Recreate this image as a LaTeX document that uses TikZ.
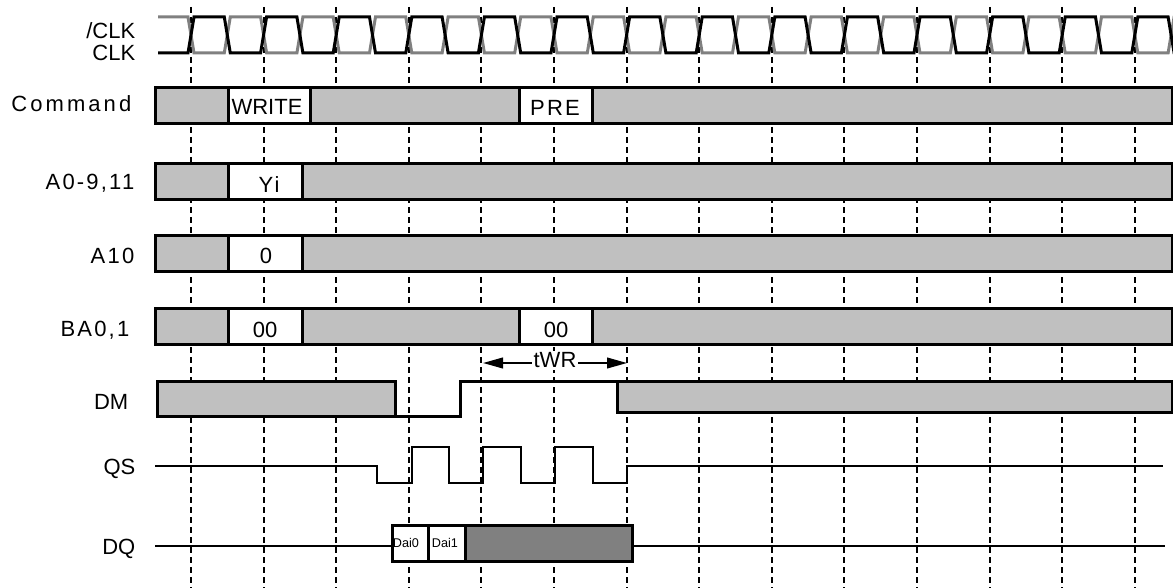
\documentclass[tikz,border=0pt]{standalone}
\usepackage{fontspec}
\setmainfont{Liberation Sans}
\newfontfamily\spaced[LetterSpace=10]{Liberation Sans}
\newfontfamily\wider[LetterSpace=14]{Liberation Sans}
\usetikzlibrary{arrows.meta}

\definecolor{busgray}{HTML}{C0C0C0}
\definecolor{dqgray}{HTML}{808080}
\definecolor{clkgray}{HTML}{808080}

\tikzset{
  bus/.style={draw, line width=2.25pt, fill=busgray},
  cell/.style={draw, line width=2.25pt, fill=white},
  wire/.style={line width=1.5pt},
  edgeline/.style={line width=2.25pt},
  tick/.style={line width=1.5pt, dash pattern=on 4.5pt off 3pt},
  clkline/.style={line width=2.25pt, line join=miter},
}

\begin{document}
\begin{tikzpicture}[x=0.75pt, y=-0.75pt, font=\fontsize{16.5}{18}\selectfont]

        \useasboundingbox (0,0) rectangle (1173,588);

        % clock edges
        \foreach \i in {0,...,13}
          \draw[tick] ({191+72.6*\i},7) -- ({191+72.6*\i},588);

        \begin{scope}[every node/.style={anchor=base east}]
          \node (nclk)  at (140,39)  {/CLK};
          \node (clk)   at (140,61)  {CLK};
          \node (cmd)   at (136,112) {\wider Command};
          \node (addr)  at (139,190) {\spaced A0-9,11};
          \node (a10)   at (139,263) {\spaced A10};
          \node (ba)    at (134,336) {\spaced BA0,1};
          \node (dm)    at (133,409) {DM};
          \node (qs)    at (140,474) {QS};
          \node (dq)    at (140,554) {DQ};
        \end{scope}

        % /CLK and CLK
        \draw[clkline, clkgray] (158,17)
          \foreach \k [evaluate=\k as \a using {17+36*mod(\k,2)},
                       evaluate=\k as \b using {53-36*mod(\k,2)}] in {0,...,27}
          { -- ({191+36.3*\k-3},\a) -- ({191+36.3*\k+3},\b) } -- (1176,17);
        \draw[clkline] (158,53)
          \foreach \k [evaluate=\k as \a using {53-36*mod(\k,2)},
                       evaluate=\k as \b using {17+36*mod(\k,2)}] in {0,...,27}
          { -- ({191+36.3*\k-3},\a) -- ({191+36.3*\k+3},\b) } -- (1176,53);

        % Command
        \draw[bus]  (155,88) rectangle (1172,124);
        \draw[cell] (228,88) rectangle (310,124);
        \draw[cell] (519,88) rectangle (592,124);

        % A0-9,11 / A10 / BA0,1
        \draw[bus]  (155,163) rectangle (1172,199);
        \draw[cell] (228,163) rectangle (302,199);
        \draw[bus]  (155,235) rectangle (1172,271);
        \draw[cell] (228,235) rectangle (302,271);
        \draw[bus]  (155,308) rectangle (1172,344);
        \draw[cell] (228,308) rectangle (302,344);
        \draw[cell] (519,308) rectangle (592,344);

        \begin{scope}[every node/.style={anchor=base}]
          \node (write) at (267,115) {WRITE};
          \node (pre)   at (555,116) {\spaced PRE};
          \node (yi)    at (269,192) {\spaced Yi};
          \node (zero)  at (266,263) {0};
          \node (bank)  at (265,337) {00};
          \node (bankp) at (556,337) {00};
        \end{scope}

        % DM
        \draw[bus] (157,381) rectangle (395,416);
        \draw[edgeline] (395,416) -- (460,416) -- (460,381) -- (617,381);
        \draw[bus] (617,381) rectangle (1172,412);

        % tWR
        \coordinate (wrA) at (483,363);
        \coordinate (wrB) at (627,363);
        \draw[wire, {Triangle[length=15pt,width=8pt]}-{Triangle[length=15pt,width=8pt]}]
          (wrA) -- node[fill=white, inner sep=1.5pt, yshift=2pt] (twr) {tWR} (wrB);

        % QS
        \draw[wire] (155,466) -- (377,466) -- (377,483) -- (412,483)
          -- (412,447) -- (449,447) -- (449,483) -- (483,483)
          -- (483,447) -- (521,447) -- (521,483) -- (555,483)
          -- (555,447) -- (593,447) -- (593,483) -- (627,483)
          -- (627,466) -- (1163,466);

        % DQ
        \draw[wire] (155,546) -- (392,546);
        \draw[wire] (632,546) -- (1165,546);
        \draw[cell] (392,525) rectangle (428,561);
        \draw[cell] (428,525) rectangle (465,561);
        \draw[bus, fill=dqgray] (465,525) rectangle (632,561);
        \begin{scope}[every node/.style={anchor=base, font=\fontsize{9.5}{10}\selectfont}]
          \node (d0) at (406,547) {Dai0};
          \node (d1) at (445,547) {Dai1};
        \end{scope}

      \end{tikzpicture}
\end{document}
